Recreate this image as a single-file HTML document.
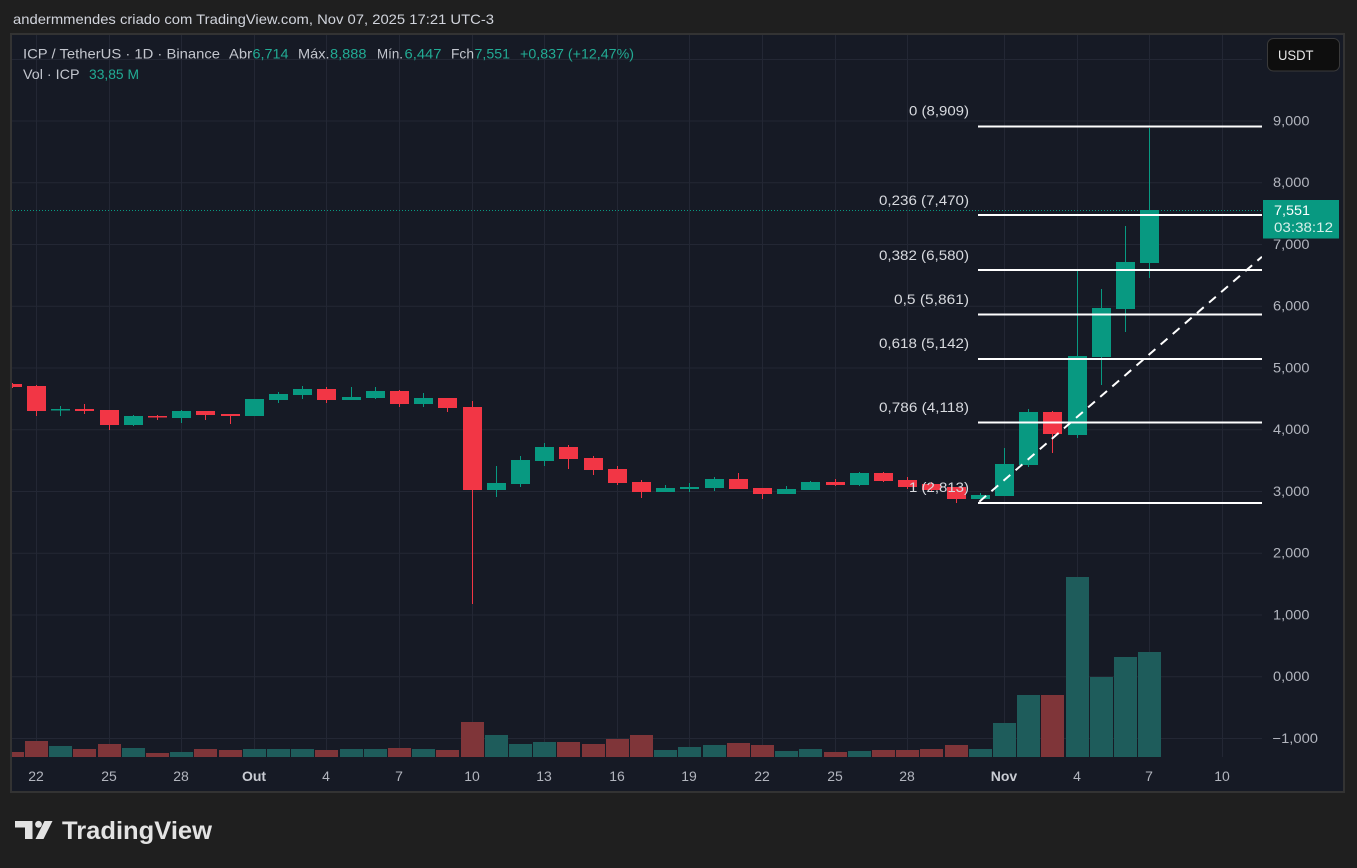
<!DOCTYPE html>
<html><head><meta charset="utf-8">
<style>
html,body{margin:0;padding:0;background:#1f1f1f;}
svg{display:block;}
text{font-family:"Liberation Sans",Arial,sans-serif;}
</style></head>
<body>
<svg width="1357" height="868" viewBox="0 0 1357 868" xmlns="http://www.w3.org/2000/svg">
<defs>
<clipPath id="plot"><rect x="12" y="35" width="1250" height="722"/></clipPath>
</defs>
<rect x="0" y="0" width="1357" height="868" fill="#1f1f1f"/>
<!-- chart pane -->
<rect x="11" y="34" width="1333" height="758" fill="#161a25" stroke="#333333" stroke-width="2"/>

<!-- header -->
<text x="13" y="24" font-size="14" fill="#d1d4dc" textLength="481" lengthAdjust="spacingAndGlyphs">andermmendes criado com TradingView.com, Nov 07, 2025 17:21 UTC-3</text>

<!-- grid -->
<g stroke="#232734" stroke-width="1">
<line x1="12" x2="1262" y1="59.5" y2="59.5"/>
<line x1="12" x2="1262" y1="121" y2="121"/>
<line x1="12" x2="1262" y1="182.7" y2="182.7"/>
<line x1="12" x2="1262" y1="244.5" y2="244.5"/>
<line x1="12" x2="1262" y1="306.2" y2="306.2"/>
<line x1="12" x2="1262" y1="368" y2="368"/>
<line x1="12" x2="1262" y1="429.7" y2="429.7"/>
<line x1="12" x2="1262" y1="491.5" y2="491.5"/>
<line x1="12" x2="1262" y1="553.2" y2="553.2"/>
<line x1="12" x2="1262" y1="615" y2="615"/>
<line x1="12" x2="1262" y1="676.7" y2="676.7"/>
<line x1="12" x2="1262" y1="738.5" y2="738.5"/>
<line y1="35" y2="757" x1="36.5" x2="36.5"/>
<line y1="35" y2="757" x1="109.5" x2="109.5"/>
<line y1="35" y2="757" x1="181.5" x2="181.5"/>
<line y1="35" y2="757" x1="254.5" x2="254.5"/>
<line y1="35" y2="757" x1="326.5" x2="326.5"/>
<line y1="35" y2="757" x1="399.5" x2="399.5"/>
<line y1="35" y2="757" x1="472.5" x2="472.5"/>
<line y1="35" y2="757" x1="544.5" x2="544.5"/>
<line y1="35" y2="757" x1="617.5" x2="617.5"/>
<line y1="35" y2="757" x1="689.5" x2="689.5"/>
<line y1="35" y2="757" x1="762.5" x2="762.5"/>
<line y1="35" y2="757" x1="835.5" x2="835.5"/>
<line y1="35" y2="757" x1="907.5" x2="907.5"/>
<line y1="35" y2="757" x1="1004.5" x2="1004.5"/>
<line y1="35" y2="757" x1="1077.5" x2="1077.5"/>
<line y1="35" y2="757" x1="1149.5" x2="1149.5"/>
<line y1="35" y2="757" x1="1222.5" x2="1222.5"/>
</g>

<g clip-path="url(#plot)">
<!-- volume -->
<g>
<rect x="1" y="752" width="23" height="5.5" fill="#7f3539"/>
<rect x="25" y="741" width="23" height="16.5" fill="#7f3539"/>
<rect x="49" y="746" width="23" height="11.5" fill="#1e5c5b"/>
<rect x="73" y="749" width="23" height="8.5" fill="#7f3539"/>
<rect x="98" y="744" width="23" height="13.5" fill="#7f3539"/>
<rect x="122" y="748" width="23" height="9.5" fill="#1e5c5b"/>
<rect x="146" y="753" width="23" height="4.5" fill="#7f3539"/>
<rect x="170" y="752" width="23" height="5.5" fill="#1e5c5b"/>
<rect x="194" y="749" width="23" height="8.5" fill="#7f3539"/>
<rect x="219" y="750" width="23" height="7.5" fill="#7f3539"/>
<rect x="243" y="749" width="23" height="8.5" fill="#1e5c5b"/>
<rect x="267" y="749" width="23" height="8.5" fill="#1e5c5b"/>
<rect x="291" y="749" width="23" height="8.5" fill="#1e5c5b"/>
<rect x="315" y="750" width="23" height="7.5" fill="#7f3539"/>
<rect x="340" y="749" width="23" height="8.5" fill="#1e5c5b"/>
<rect x="364" y="749" width="23" height="8.5" fill="#1e5c5b"/>
<rect x="388" y="748" width="23" height="9.5" fill="#7f3539"/>
<rect x="412" y="749" width="23" height="8.5" fill="#1e5c5b"/>
<rect x="436" y="750" width="23" height="7.5" fill="#7f3539"/>
<rect x="461" y="722" width="23" height="35.5" fill="#7f3539"/>
<rect x="485" y="735" width="23" height="22.5" fill="#1e5c5b"/>
<rect x="509" y="744" width="23" height="13.5" fill="#1e5c5b"/>
<rect x="533" y="742" width="23" height="15.5" fill="#1e5c5b"/>
<rect x="557" y="742" width="23" height="15.5" fill="#7f3539"/>
<rect x="582" y="744" width="23" height="13.5" fill="#7f3539"/>
<rect x="606" y="739" width="23" height="18.5" fill="#7f3539"/>
<rect x="630" y="735" width="23" height="22.5" fill="#7f3539"/>
<rect x="654" y="750" width="23" height="7.5" fill="#1e5c5b"/>
<rect x="678" y="747" width="23" height="10.5" fill="#1e5c5b"/>
<rect x="703" y="745" width="23" height="12.5" fill="#1e5c5b"/>
<rect x="727" y="743" width="23" height="14.5" fill="#7f3539"/>
<rect x="751" y="745" width="23" height="12.5" fill="#7f3539"/>
<rect x="775" y="751" width="23" height="6.5" fill="#1e5c5b"/>
<rect x="799" y="749" width="23" height="8.5" fill="#1e5c5b"/>
<rect x="824" y="752" width="23" height="5.5" fill="#7f3539"/>
<rect x="848" y="751" width="23" height="6.5" fill="#1e5c5b"/>
<rect x="872" y="750" width="23" height="7.5" fill="#7f3539"/>
<rect x="896" y="750" width="23" height="7.5" fill="#7f3539"/>
<rect x="920" y="749" width="23" height="8.5" fill="#7f3539"/>
<rect x="945" y="745" width="23" height="12.5" fill="#7f3539"/>
<rect x="969" y="749" width="23" height="8.5" fill="#1e5c5b"/>
<rect x="993" y="723" width="23" height="34.5" fill="#1e5c5b"/>
<rect x="1017" y="695" width="23" height="62.5" fill="#1e5c5b"/>
<rect x="1041" y="695" width="23" height="62.5" fill="#7f3539"/>
<rect x="1066" y="577" width="23" height="180.5" fill="#1e5c5b"/>
<rect x="1090" y="677" width="23" height="80.5" fill="#1e5c5b"/>
<rect x="1114" y="657" width="23" height="100.5" fill="#1e5c5b"/>
<rect x="1138" y="652" width="23" height="105.5" fill="#1e5c5b"/>
</g>

<!-- current price dotted line -->
<line x1="12" x2="1262" y1="210.5" y2="210.5" stroke="#089981" stroke-width="1" stroke-dasharray="1 2"/>

<!-- candles -->
<g>
<!-- d=-1 -->
<rect x="12" y="383" width="1" height="5" fill="#f23645"/><rect x="3" y="384" width="19" height="3" fill="#f23645"/>
<rect x="36" y="385" width="1" height="31" fill="#f23645"/><rect x="27" y="386" width="19" height="25" fill="#f23645"/>
<rect x="60" y="406" width="1" height="10" fill="#089981"/><rect x="51" y="409" width="19" height="1.5" fill="#089981"/>
<rect x="84" y="404" width="1" height="10" fill="#f23645"/><rect x="75" y="409" width="19" height="2" fill="#f23645"/>
<rect x="109" y="410" width="1" height="20" fill="#f23645"/><rect x="100" y="410" width="19" height="15" fill="#f23645"/>
<rect x="133" y="415" width="1" height="11" fill="#089981"/><rect x="124" y="416" width="19" height="9" fill="#089981"/>
<rect x="157" y="415" width="1" height="5" fill="#f23645"/><rect x="148" y="416" width="19" height="1.5" fill="#f23645"/>
<rect x="181" y="410" width="1" height="13" fill="#089981"/><rect x="172" y="411" width="19" height="7" fill="#089981"/>
<rect x="205" y="411" width="1" height="9" fill="#f23645"/><rect x="196" y="411" width="19" height="4" fill="#f23645"/>
<rect x="230" y="414" width="1" height="10" fill="#f23645"/><rect x="221" y="414" width="19" height="2" fill="#f23645"/>
<rect x="254" y="399" width="1" height="17" fill="#089981"/><rect x="245" y="399" width="19" height="17" fill="#089981"/>
<rect x="278" y="392" width="1" height="11" fill="#089981"/><rect x="269" y="394" width="19" height="6" fill="#089981"/>
<rect x="302" y="386" width="1" height="13" fill="#089981"/><rect x="293" y="389" width="19" height="6" fill="#089981"/>
<rect x="326" y="387" width="1" height="16" fill="#f23645"/><rect x="317" y="389" width="19" height="11" fill="#f23645"/>
<rect x="351" y="387" width="1" height="13" fill="#089981"/><rect x="342" y="397" width="19" height="3" fill="#089981"/>
<rect x="375" y="387" width="1" height="12" fill="#089981"/><rect x="366" y="391" width="19" height="7" fill="#089981"/>
<rect x="399" y="390" width="1" height="17" fill="#f23645"/><rect x="390" y="391" width="19" height="13" fill="#f23645"/>
<rect x="423" y="393" width="1" height="14" fill="#089981"/><rect x="414" y="398" width="19" height="6" fill="#089981"/>
<rect x="447" y="398" width="1" height="14" fill="#f23645"/><rect x="438" y="398" width="19" height="10" fill="#f23645"/>
<rect x="472" y="401" width="1" height="203" fill="#f23645"/><rect x="463" y="407" width="19" height="83" fill="#f23645"/>
<rect x="496" y="466" width="1" height="31" fill="#089981"/><rect x="487" y="483" width="19" height="7" fill="#089981"/>
<rect x="520" y="456" width="1" height="31" fill="#089981"/><rect x="511" y="460" width="19" height="24" fill="#089981"/>
<rect x="544" y="443" width="1" height="23" fill="#089981"/><rect x="535" y="447" width="19" height="14" fill="#089981"/>
<rect x="568" y="445" width="1" height="24" fill="#f23645"/><rect x="559" y="447" width="19" height="12" fill="#f23645"/>
<rect x="593" y="456" width="1" height="19" fill="#f23645"/><rect x="584" y="458" width="19" height="12" fill="#f23645"/>
<rect x="617" y="466" width="1" height="19" fill="#f23645"/><rect x="608" y="469" width="19" height="14" fill="#f23645"/>
<rect x="641" y="480" width="1" height="18" fill="#f23645"/><rect x="632" y="482" width="19" height="10" fill="#f23645"/>
<rect x="665" y="485" width="1" height="7" fill="#089981"/><rect x="656" y="488" width="19" height="4" fill="#089981"/>
<rect x="689" y="483" width="1" height="9" fill="#089981"/><rect x="680" y="487" width="19" height="2" fill="#089981"/>
<rect x="714" y="477" width="1" height="14" fill="#089981"/><rect x="705" y="479" width="19" height="9" fill="#089981"/>
<rect x="738" y="473" width="1" height="16" fill="#f23645"/><rect x="729" y="479" width="19" height="10" fill="#f23645"/>
<rect x="762" y="488" width="1" height="11" fill="#f23645"/><rect x="753" y="488" width="19" height="6" fill="#f23645"/>
<rect x="786" y="486" width="1" height="8" fill="#089981"/><rect x="777" y="489" width="19" height="5" fill="#089981"/>
<rect x="810" y="481" width="1" height="9" fill="#089981"/><rect x="801" y="482" width="19" height="8" fill="#089981"/>
<rect x="835" y="479" width="1" height="7" fill="#f23645"/><rect x="826" y="482" width="19" height="3" fill="#f23645"/>
<rect x="859" y="472" width="1" height="14" fill="#089981"/><rect x="850" y="473" width="19" height="12" fill="#089981"/>
<rect x="883" y="472" width="1" height="10" fill="#f23645"/><rect x="874" y="473" width="19" height="8" fill="#f23645"/>
<rect x="907" y="477" width="1" height="12" fill="#f23645"/><rect x="898" y="480" width="19" height="7" fill="#f23645"/>
<rect x="931" y="482" width="1" height="9" fill="#f23645"/><rect x="922" y="484" width="19" height="6" fill="#f23645"/>
<rect x="956" y="487" width="1" height="16" fill="#f23645"/><rect x="947" y="487" width="19" height="12" fill="#f23645"/>
<rect x="980" y="493" width="1" height="6" fill="#089981"/><rect x="971" y="495" width="19" height="4" fill="#089981"/>
<rect x="1004" y="448" width="1" height="48" fill="#089981"/><rect x="995" y="464" width="19" height="32" fill="#089981"/>
<rect x="1028" y="409" width="1" height="58" fill="#089981"/><rect x="1019" y="412" width="19" height="53" fill="#089981"/>
<rect x="1052" y="411" width="1" height="42" fill="#f23645"/><rect x="1043" y="412" width="19" height="22" fill="#f23645"/>
<rect x="1077" y="271" width="1" height="167" fill="#089981"/><rect x="1068" y="356" width="19" height="79" fill="#089981"/>
<rect x="1101" y="289" width="1" height="96" fill="#089981"/><rect x="1092" y="308" width="19" height="49" fill="#089981"/>
<rect x="1125" y="226" width="1" height="106" fill="#089981"/><rect x="1116" y="262" width="19" height="47" fill="#089981"/>
<rect x="1149" y="128" width="1" height="150" fill="#089981"/><rect x="1140" y="210" width="19" height="53" fill="#089981"/>
</g>

<!-- fib lines -->
<g stroke="#ffffff" stroke-width="2">
<line x1="978" x2="1262" y1="126.5" y2="126.5"/>
<line x1="978" x2="1262" y1="215" y2="215"/>
<line x1="978" x2="1262" y1="270" y2="270"/>
<line x1="978" x2="1262" y1="314.5" y2="314.5"/>
<line x1="978" x2="1262" y1="359" y2="359"/>
<line x1="978" x2="1262" y1="422.5" y2="422.5"/>
<line x1="978" x2="1262" y1="503" y2="503"/>
</g>
<line x1="979.3" y1="501.7" x2="1262" y2="256.7" stroke="#ffffff" stroke-width="2" stroke-dasharray="9 7"/>
</g>

<!-- fib labels -->
<g font-size="14" fill="#d8dadf" text-anchor="end">
<text x="969" y="115.5" textLength="60" lengthAdjust="spacingAndGlyphs">0 (8,909)</text>
<text x="969" y="205" textLength="90" lengthAdjust="spacingAndGlyphs">0,236 (7,470)</text>
<text x="969" y="260" textLength="90" lengthAdjust="spacingAndGlyphs">0,382 (6,580)</text>
<text x="969" y="304" textLength="75" lengthAdjust="spacingAndGlyphs">0,5 (5,861)</text>
<text x="969" y="348" textLength="90" lengthAdjust="spacingAndGlyphs">0,618 (5,142)</text>
<text x="969" y="412" textLength="90" lengthAdjust="spacingAndGlyphs">0,786 (4,118)</text>
<text x="969" y="492" textLength="60" lengthAdjust="spacingAndGlyphs">1 (2,813)</text>
</g>

<!-- legend -->
<g font-size="14">
<text x="23" y="58.5" fill="#c3c6ce" textLength="197" lengthAdjust="spacingAndGlyphs">ICP / TetherUS · 1D · Binance</text>
<text x="229" y="58.5" fill="#c3c6ce" textLength="23" lengthAdjust="spacingAndGlyphs">Abr</text>
<text x="252.5" y="58.5" fill="#22ab94" textLength="36" lengthAdjust="spacingAndGlyphs">6,714</text>
<text x="298" y="58.5" fill="#c3c6ce" textLength="31.5" lengthAdjust="spacingAndGlyphs">Máx.</text>
<text x="330" y="58.5" fill="#22ab94" textLength="36.5" lengthAdjust="spacingAndGlyphs">8,888</text>
<text x="377" y="58.5" fill="#c3c6ce" textLength="26" lengthAdjust="spacingAndGlyphs">Mín.</text>
<text x="404.5" y="58.5" fill="#22ab94" textLength="37" lengthAdjust="spacingAndGlyphs">6,447</text>
<text x="451" y="58.5" fill="#c3c6ce" textLength="23" lengthAdjust="spacingAndGlyphs">Fch</text>
<text x="474.5" y="58.5" fill="#22ab94" textLength="35.5" lengthAdjust="spacingAndGlyphs">7,551</text>
<text x="520" y="58.5" fill="#22ab94" textLength="114" lengthAdjust="spacingAndGlyphs">+0,837 (+12,47%)</text>
<text x="23" y="79" fill="#c3c6ce" textLength="56.5" lengthAdjust="spacingAndGlyphs">Vol · ICP</text>
<text x="89" y="79" fill="#22ab94" textLength="50" lengthAdjust="spacingAndGlyphs">33,85 M</text>
</g>

<!-- price axis labels -->
<g font-size="13.5" fill="#b2b5be">
<text x="1273" y="125.5" textLength="36.5" lengthAdjust="spacingAndGlyphs">9,000</text>
<text x="1273" y="187.2" textLength="36.5" lengthAdjust="spacingAndGlyphs">8,000</text>
<text x="1273" y="249" textLength="36.5" lengthAdjust="spacingAndGlyphs">7,000</text>
<text x="1273" y="310.7" textLength="36.5" lengthAdjust="spacingAndGlyphs">6,000</text>
<text x="1273" y="372.5" textLength="36.5" lengthAdjust="spacingAndGlyphs">5,000</text>
<text x="1273" y="434.2" textLength="36.5" lengthAdjust="spacingAndGlyphs">4,000</text>
<text x="1273" y="496" textLength="36.5" lengthAdjust="spacingAndGlyphs">3,000</text>
<text x="1273" y="557.7" textLength="36.5" lengthAdjust="spacingAndGlyphs">2,000</text>
<text x="1273" y="619.5" textLength="36.5" lengthAdjust="spacingAndGlyphs">1,000</text>
<text x="1273" y="681.2" textLength="36.5" lengthAdjust="spacingAndGlyphs">0,000</text>
<text x="1272.5" y="743" textLength="45.5" lengthAdjust="spacingAndGlyphs">−1,000</text>
</g>

<!-- current price tag -->
<rect x="1263" y="200" width="76" height="38.5" fill="#089981"/>
<text x="1274" y="215" font-size="14" fill="#ffffff" textLength="36" lengthAdjust="spacingAndGlyphs">7,551</text>
<text x="1274" y="232" font-size="14" fill="#d7f0ea" textLength="59" lengthAdjust="spacingAndGlyphs">03:38:12</text>

<!-- USDT button -->
<rect x="1267.5" y="38.5" width="72" height="32.5" rx="6" ry="6" fill="#0e0e0e" stroke="#3a3a3a" stroke-width="1"/>
<text x="1278" y="60" font-size="14" fill="#e6e6e6" textLength="35.5" lengthAdjust="spacingAndGlyphs">USDT</text>

<!-- time axis labels -->
<g font-size="14" fill="#b2b5be" text-anchor="middle">
<text x="36" y="781">22</text>
<text x="109" y="781">25</text>
<text x="181" y="781">28</text>
<text x="254" y="781" font-weight="bold" fill="#c9ccd3">Out</text>
<text x="326" y="781">4</text>
<text x="399" y="781">7</text>
<text x="472" y="781">10</text>
<text x="544" y="781">13</text>
<text x="617" y="781">16</text>
<text x="689" y="781">19</text>
<text x="762" y="781">22</text>
<text x="835" y="781">25</text>
<text x="907" y="781">28</text>
<text x="1004" y="781" font-weight="bold" fill="#c9ccd3">Nov</text>
<text x="1077" y="781">4</text>
<text x="1149" y="781">7</text>
<text x="1222" y="781">10</text>
</g>

<!-- TradingView logo -->
<g fill="#e3e3e3">
<path d="M15 821 H32.5 V839 H25 V827.5 H15 Z"/>
<circle cx="38.5" cy="824.3" r="3.4"/>
<polygon points="35.5,839 43.5,839 52.5,821 44.5,821"/>
<text x="62" y="839" font-size="25" font-weight="bold" textLength="150" lengthAdjust="spacingAndGlyphs">TradingView</text>
</g>
</svg>
</body></html>
